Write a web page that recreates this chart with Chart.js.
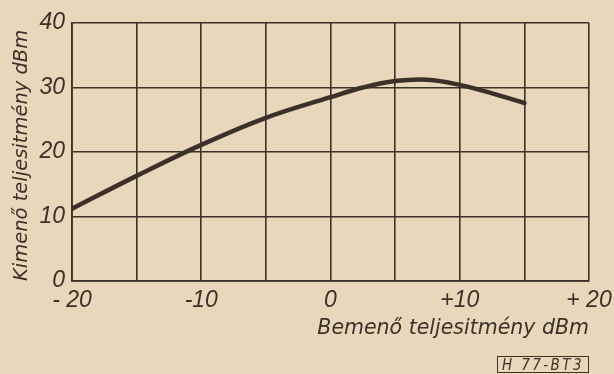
<!DOCTYPE html>
<html>
<head>
<meta charset="utf-8">
<script src="https://cdn.jsdelivr.net/npm/chart.js@4/dist/chart.umd.min.js"></script>
<style>
  html, body { margin: 0; padding: 0; background: #e8d7ba; }
  #wrap { position: relative; width: 614px; height: 374px; }
  #stamp {
    position: absolute; left: 497px; top: 356px; width: 90px; height: 15px;
    border: 1.5px solid #3b3129;
    font: italic 15px "DejaVu Sans Condensed", "DejaVu Sans", sans-serif;
    color: #3b3129; line-height: 16px; text-align: center; letter-spacing: 2.4px;
  }
</style>
</head>
<body>
<div id="wrap">
  <canvas id="chart" width="614" height="374"></canvas>
  <div id="stamp">H 77-BT3</div>
</div>
<script>
// input power (dBm) vs output power (dBm)
const inputDbm = [-20, -15, -10, -5, 0, 2.5, 5, 7.5, 10, 12.5, 15];
const outputDbm = [11.2, 16.3, 21.1, 25.3, 28.5, 30.0, 31.0, 31.2, 30.4, 29.1, 27.6];

const xTickValues = [-20, -10, 0, 10, 20];
const xTickLabels = ['- 20', '-10', '0', '+10', '+ 20'];
const yTickValues = [0, 10, 20, 30, 40];
const yTickLabels = ['0', '10', '20', '30', '40'];

const ink = '#3b3129';
const tickFont = { family: '"Liberation Sans Narrow", sans-serif', style: 'italic', size: 23 };
const titleFont = { family: '"DejaVu Sans", sans-serif', style: 'italic', size: 20.5 };

new Chart('chart', {
  type: 'line',
  data: {
    datasets: [{
      data: inputDbm.map((x, i) => ({ x: x, y: outputDbm[i] })),
      borderColor: ink,
      borderWidth: 4.5,
      borderCapStyle: 'round',
      pointRadius: 0,
      tension: 0.4,
      fill: false
    }]
  },
  options: {
    responsive: false,
    animation: false,
    layout: { padding: { top: 23, right: 25, left: 0, bottom: 0 } },
    plugins: { legend: { display: false }, tooltip: { enabled: false } },
    scales: {
      x: {
        type: 'linear',
        min: -20,
        max: 20,
        afterFit: s => { s.height = 93; s.paddingRight = 0; },
        ticks: {
          stepSize: 5,
          color: ink,
          font: tickFont,
          padding: 6,
          maxRotation: 0,
          autoSkip: false,
          callback: v => {
            const i = xTickValues.indexOf(v);
            return i < 0 ? '' : xTickLabels[i];
          }
        },
        grid: { color: ink, lineWidth: 1.6, drawTicks: false },
        border: { color: ink, width: 1.8 },
        title: {
          display: true,
          text: 'Bemenő teljesitmény dBm',
          align: 'end',
          color: ink,
          font: titleFont,
          padding: { top: 0, bottom: 33 }
        }
      },
      y: {
        min: 0,
        max: 40,
        afterFit: s => { s.width = 72; },
        ticks: {
          stepSize: 10,
          color: ink,
          font: tickFont,
          padding: 7,
          callback: v => {
            const i = yTickValues.indexOf(v);
            return i < 0 ? '' : yTickLabels[i];
          }
        },
        grid: { color: ink, lineWidth: 1.6, drawTicks: false },
        border: { color: ink, width: 1.8 },
        title: {
          display: true,
          text: 'Kimenő teljesitmény dBm',
          align: 'start',
          color: ink,
          font: { family: titleFont.family, style: 'italic', size: 19.5 },
          padding: { top: 10, bottom: 0 }
        }
      }
    }
  }
});
</script>
</body>
</html>
